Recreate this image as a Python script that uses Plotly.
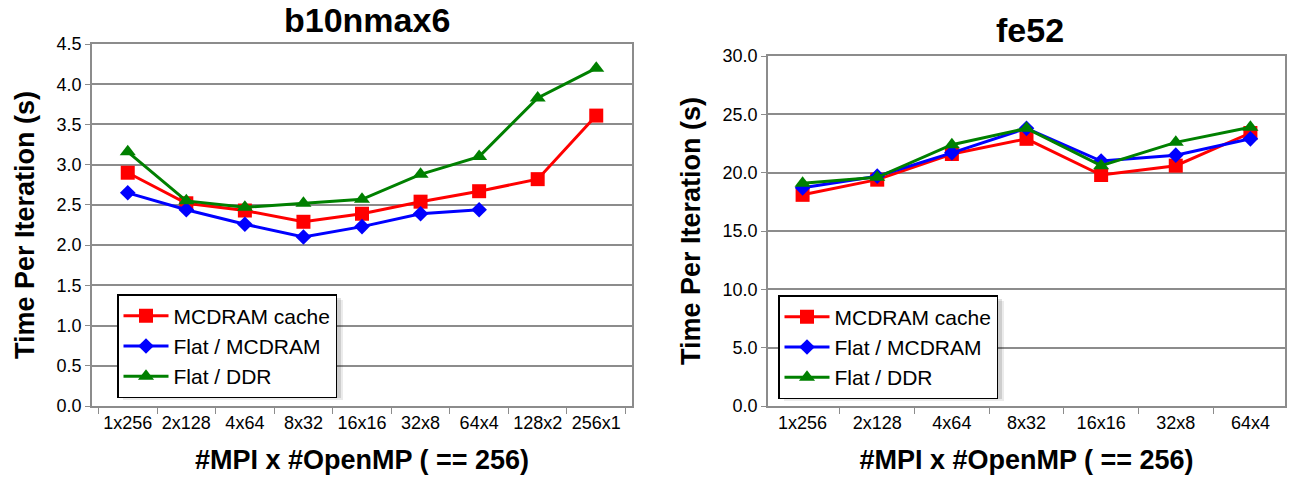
import plotly.graph_objects as go

# ---- data ----
cats_left = ["1x256", "2x128", "4x64", "8x32", "16x16", "32x8", "64x4", "128x2", "256x1"]
left_cache = [2.90, 2.52, 2.43, 2.29, 2.39, 2.54, 2.67, 2.82, 3.61]
left_flat_mcdram = [2.65, 2.44, 2.26, 2.10, 2.23, 2.39, 2.44]
left_flat_ddr = [3.16, 2.55, 2.47, 2.52, 2.57, 2.88, 3.10, 3.83, 4.20]

cats_right = ["1x256", "2x128", "4x64", "8x32", "16x16", "32x8", "64x4"]
right_cache = [18.1, 19.4, 21.6, 22.9, 19.8, 20.6, 23.4]
right_flat_mcdram = [18.7, 19.7, 21.7, 23.8, 21.0, 21.5, 22.9]
right_flat_ddr = [19.1, 19.6, 22.4, 23.8, 20.6, 22.6, 23.9]

series_names = ["MCDRAM cache", "Flat / MCDRAM", "Flat / DDR"]
titles = ["b10nmax6", "fe52"]
x_title = "#MPI x #OpenMP ( == 256)"
y_title = "Time Per Iteration (s)"

# ---- style ----
colors = ["#FF0000", "#0000FF", "#008000"]
symbols = ["square", "diamond", "triangle-up"]
msizes = [14, 12, 14]
FONT = "Liberation Sans, Arial, sans-serif"
W, H = 1296, 480

fig = go.Figure()

def add_series(cats, vals_list, xa, ya, legend):
    for name, vals, c, s, ms in zip(series_names, vals_list, colors, symbols, msizes):
        fig.add_trace(go.Scatter(
            x=cats[:len(vals)], y=vals, name=name, mode="lines+markers",
            line=dict(color=c, width=3),
            marker=dict(symbol=s, size=ms, color=c),
            xaxis=xa, yaxis=ya, legend=legend,
        ))

add_series(cats_left, [left_cache, left_flat_mcdram, left_flat_ddr], "x", "y", "legend")
add_series(cats_right, [right_cache, right_flat_mcdram, right_flat_ddr], "x2", "y2", "legend2")

def px_x(p):
    return p / W

def px_y(p):
    return 1 - p / H

grid = "#8c8c8c"
title_font = dict(family=FONT, size=27, color="black", weight="bold")
xcommon = dict(type="category", tickson="boundaries", ticks="outside", ticklen=6,
               tickcolor=grid, showgrid=False, showline=True, linecolor=grid, linewidth=1.5,
               mirror=True, tickangle=0, tickfont=dict(family=FONT, size=18, color="black"),
               title=dict(text=x_title, font=title_font, standoff=18),
               automargin=False, fixedrange=True)
ycommon = dict(ticks="outside", ticklen=5, tickcolor=grid, showgrid=True, gridcolor=grid,
               gridwidth=1.5, showline=True, linecolor=grid, linewidth=1.5, mirror=True,
               zeroline=False, tickformat=".1f",
               tickfont=dict(family=FONT, size=18, color="black"),
               title=dict(text=y_title, font=title_font, standoff=14),
               automargin=False, fixedrange=True)

legend_common = dict(xanchor="left", yanchor="top", bgcolor="white", bordercolor="black",
                     borderwidth=1.5, font=dict(family=FONT, size=21, color="black"),
                     tracegroupgap=0, itemwidth=45)

LEG_POS = [(117, 294), (778, 295)]
LEG_W, LEG_H = 220, 100

fig.update_layout(
    width=W, height=H,
    margin=dict(l=0, r=0, t=0, b=0),
    paper_bgcolor="white", plot_bgcolor="white",
    font=dict(family=FONT, color="black"),
    xaxis=dict(domain=[px_x(92), px_x(632)], anchor="y", **xcommon),
    yaxis=dict(domain=[px_y(406), px_y(44)], anchor="x", range=[0, 4.5], dtick=0.5, **ycommon),
    xaxis2=dict(domain=[px_x(768), px_x(1285)], anchor="y2", **xcommon),
    yaxis2=dict(domain=[px_y(406), px_y(56)], anchor="x2", range=[0, 30], dtick=5, **ycommon),
    legend=dict(x=px_x(LEG_POS[0][0]), y=px_y(LEG_POS[0][1]), **legend_common),
    legend2=dict(x=px_x(LEG_POS[1][0]), y=px_y(LEG_POS[1][1]), **legend_common),
    showlegend=True,
)

# legend drop shadows
for (lx, ly) in LEG_POS:
    for off, a in [(6, 0.08), (4, 0.12)]:
        fig.add_shape(type="rect", xref="paper", yref="paper",
                      x0=px_x(lx + off), x1=px_x(lx + LEG_W + off),
                      y0=px_y(ly + LEG_H + off), y1=px_y(ly + off),
                      fillcolor="rgba(0,0,0,%s)" % a, line=dict(width=0), layer="above")

fig.add_annotation(text=titles[0], x=px_x(367), y=px_y(20), xref="paper", yref="paper",
                   xanchor="center", yanchor="middle", showarrow=False,
                   font=dict(family=FONT, size=34, color="black", weight="bold"))
fig.add_annotation(text=titles[1], x=px_x(1030), y=px_y(30), xref="paper", yref="paper",
                   xanchor="center", yanchor="middle", showarrow=False,
                   font=dict(family=FONT, size=34, color="black", weight="bold"))

fig.write_html("out.html", config={"displayModeBar": False},
               post_script="document.body.style.margin='0';")
